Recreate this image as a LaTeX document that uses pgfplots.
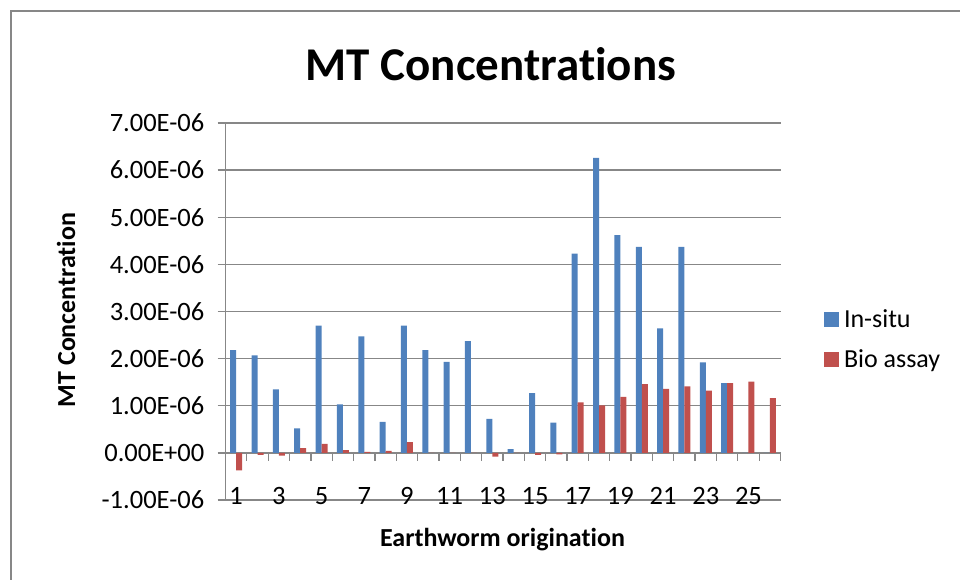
\documentclass[border=0pt]{standalone}
\usepackage{fontspec}
\setmainfont{Carlito}[RawFeature={-liga;-clig;-calt;-dlig}]
\usepackage{pgfplots}
\pgfplotsset{compat=1.18}
\definecolor{insitu}{HTML}{4F81BD}
\definecolor{bioassay}{HTML}{C0504D}
\definecolor{gridgray}{HTML}{878787}
\begin{document}
\begin{tikzpicture}[x=1bp,y=1bp]
\path[use as bounding box] (0,0) rectangle (960,580);
\draw[color=gridgray, line width=1.3bp] (11,0) -- (11,569) -- (960,569);
\node[anchor=base, font=\bfseries\fontsize{47bp}{52bp}\selectfont] at (491,499) {MT Concentrations};
\node[anchor=base, font=\bfseries\fontsize{26bp}{30bp}\selectfont] at (502.5,33) {Earthworm origination};
\node[anchor=base, rotate=90, font=\bfseries\fontsize{26bp}{30bp}\selectfont] at (75,270) {MT Concentration};
\begin{axis}[
  at={(225.5bp,80bp)}, anchor=south west,
  scale only axis, width=555bp, height=377bp,
  xmin=0.5, xmax=26.5, ymin=-1e-6, ymax=7e-6,
  axis y line*=left, axis x line*=middle,
  x axis line style={-, color=gridgray, line width=1.3bp},
  y axis line style={-, color=gridgray, line width=1.3bp},
  ytick={-1e-6,0,1e-6,2e-6,3e-6,4e-6,5e-6,6e-6,7e-6},
  yticklabels={-1.00E-06,0.00E+00,1.00E-06,2.00E-06,3.00E-06,4.00E-06,5.00E-06,6.00E-06,7.00E-06},
  xtick={1,3,5,7,9,11,13,15,17,19,21,23,25},
  xticklabels={1,3,5,7,9,11,13,15,17,19,21,23,25},
  minor xtick={0.5,1.5,2.5,3.5,4.5,5.5,6.5,7.5,8.5,9.5,10.5,11.5,12.5,13.5,14.5,15.5,16.5,17.5,18.5,19.5,20.5,21.5,22.5,23.5,24.5,25.5,26.5},
  tick align=outside,
  major tick length=8bp, minor tick length=8bp,
  x tick style={draw=none},
  minor x tick style={draw=gridgray, line width=1.3bp},
  y tick style={draw=gridgray, line width=1.3bp},
  ymajorgrids,
  major grid style={color=gridgray, line width=1.3bp},
  tick label style={font=\fontsize{26.5bp}{30bp}\selectfont},
  yticklabel style={inner sep=0pt, xshift=-13bp},
  xticklabel style={inner sep=0pt, yshift=-26bp},
  scaled y ticks=false,
  ybar=0pt, bar width=6bp,
  clip=false,
  legend style={at={(1.078,0.4257)}, anchor=west, draw=none, fill=none,
    font=\fontsize{26bp}{30bp}\selectfont, inner sep=0pt, row sep=19bp,
    nodes={inner sep=1bp}, column sep=4bp},
  legend cell align=left,
  legend image code/.code={\fill[#1] (0bp,-7.5bp) rectangle (15bp,7.5bp);},
]
\addplot[fill=insitu, draw=none] coordinates {
(1,2.18e-6) (2,2.07e-6) (3,1.35e-6) (4,0.52e-6) (5,2.70e-6) (6,1.03e-6)
(7,2.47e-6) (8,0.66e-6) (9,2.70e-6) (10,2.18e-6) (11,1.93e-6) (12,2.37e-6)
(13,0.72e-6) (14,0.08e-6) (15,1.27e-6) (16,0.64e-6) (17,4.23e-6) (18,6.26e-6)
(19,4.62e-6) (20,4.37e-6) (21,2.64e-6) (22,4.37e-6) (23,1.92e-6) (24,1.48e-6)
(25,0) (26,0)};
\addplot[fill=bioassay, draw=none] coordinates {
(1,-0.37e-6) (2,-0.04e-6) (3,-0.06e-6) (4,0.10e-6) (5,0.19e-6) (6,0.06e-6)
(7,0.02e-6) (8,0.04e-6) (9,0.23e-6) (10,0) (11,0) (12,0)
(13,-0.08e-6) (14,0) (15,-0.04e-6) (16,-0.03e-6) (17,1.07e-6) (18,1.01e-6)
(19,1.19e-6) (20,1.46e-6) (21,1.36e-6) (22,1.41e-6) (23,1.32e-6) (24,1.48e-6)
(25,1.51e-6) (26,1.16e-6)};
\legend{In-situ, Bio assay}
\end{axis}
\end{tikzpicture}
\end{document}
